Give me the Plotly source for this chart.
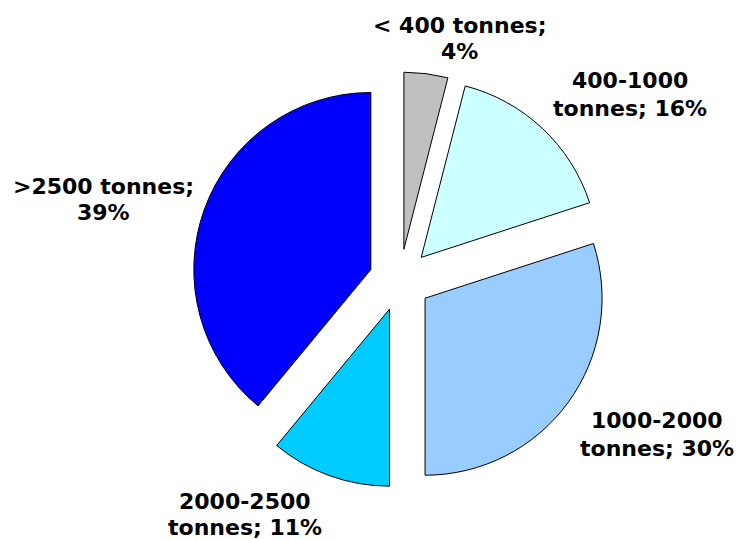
import plotly.graph_objects as go

labels = ["< 400 tonnes", "400-1000 tonnes", "1000-2000 tonnes", "2000-2500 tonnes", ">2500 tonnes"]
values = [4, 16, 30, 11, 39]
colors = ["#C0C0C0", "#CCFFFF", "#99CCFF", "#00CCFF", "#0000FF"]
label_lines = [["< 400 tonnes;", "4%"], ["400-1000", "tonnes; 16%"], ["1000-2000", "tonnes; 30%"],
               ["2000-2500", "tonnes; 11%"], [">2500 tonnes;", "39%"]]
# label line centres in pixels (style/positions): x, first line y, second line y
label_px = [(459, 25, 51), (630, 79, 107), (657, 419, 447), (245, 500, 526), (103, 185, 211)]

W, H = 739, 539
ml, mr, mt, mb = 192, 131, 72, 51
pw, ph = W - ml - mr, H - mt - mb

fig = go.Figure(go.Pie(
    labels=labels, values=values, sort=False, direction="clockwise", rotation=0,
    marker=dict(colors=colors, line=dict(color="black", width=1)),
    pull=[0.175] * len(values), textinfo="none", hoverinfo="label+percent",
    showlegend=False,
))

for lines, (px, py1, py2) in zip(label_lines, label_px):
    for txt, py in zip(lines, (py1, py2)):
        fig.add_annotation(
            x=(px - ml) / pw, y=(H - mb - py - 1) / ph, xref="paper", yref="paper",
            text=txt, showarrow=False, xanchor="center", yanchor="middle", align="center",
            font=dict(family="DejaVu Sans", size=22, color="black", weight="bold"),
        )

fig.update_layout(
    width=W, height=H, margin=dict(l=ml, r=mr, t=mt, b=mb),
    paper_bgcolor="white", plot_bgcolor="white",
)
fig.write_html("out.html")
